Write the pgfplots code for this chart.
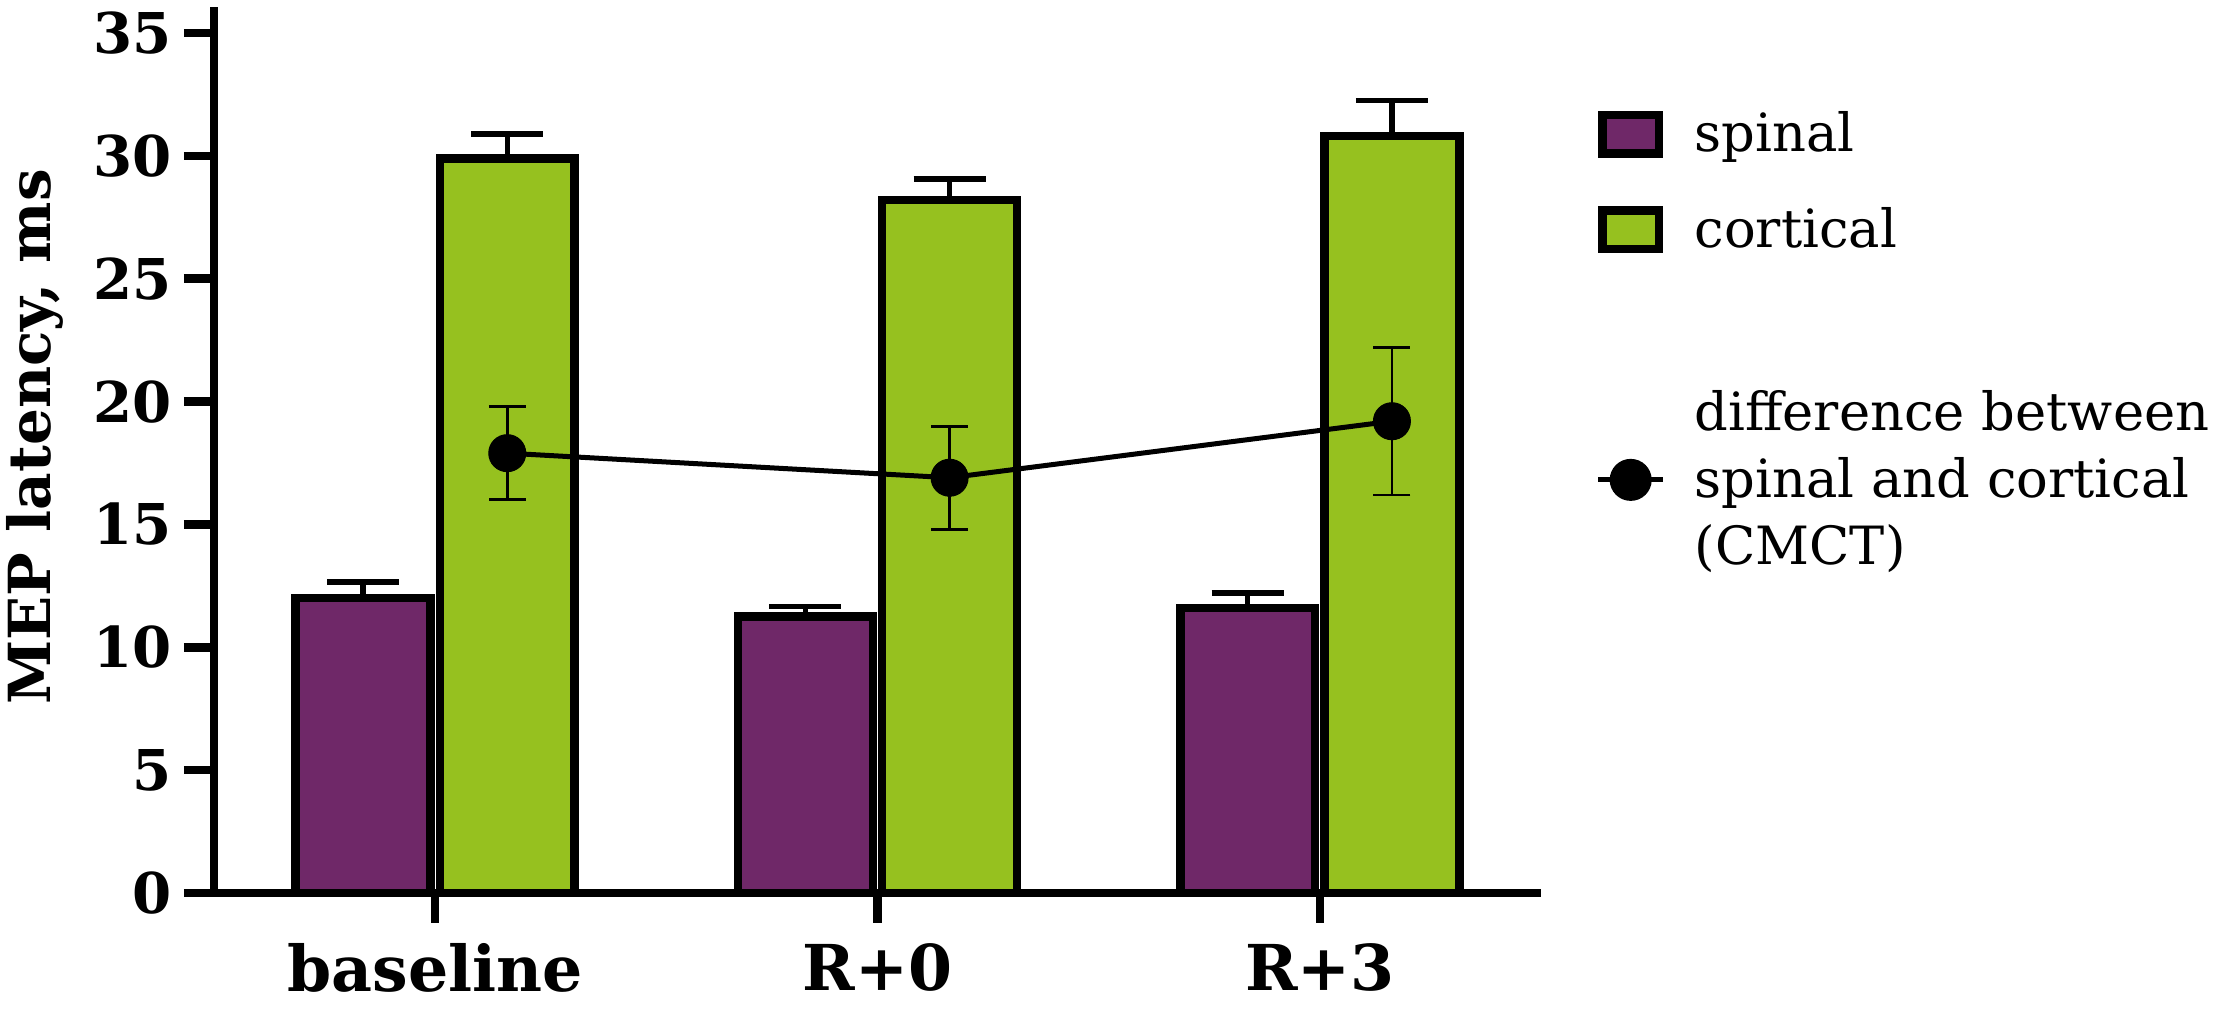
\documentclass[border=0pt]{standalone}
\usepackage{fontspec}
\setmainfont{DejaVu Serif}
\usepackage{pgfplots}
\pgfplotsset{compat=1.18}
\definecolor{spinalc}{RGB}{111,40,104}
\definecolor{corticalc}{RGB}{150,193,31}
\begin{document}
\begin{tikzpicture}
\path[use as bounding box] (0,0) rectangle (222.7mm,101.7mm);
\begin{axis}[
  at={(21.4mm,12.4mm)}, anchor=south west,
  scale only axis, width=132.7mm, height=88.6mm,
  xmin=-0.5, xmax=2.5, ymin=0, ymax=36.06,
  axis x line*=bottom, axis y line*=left,
  axis line style={line width=0.85mm, black},
  xtick={0,1,2}, xticklabels={baseline,R+0,R+3},
  ytick={0,5,...,35},
  tick align=outside, major tick length=3mm,
  tick style={line width=0.85mm, black},
  /pgf/number format/assume math mode=true,
  yticklabel style={font=\fontsize{16}{19}\selectfont\bfseries},
  xticklabel style={font=\fontsize{18}{21}\selectfont\bfseries, yshift=-0.8mm},
  ylabel={MEP latency, ms},
  ylabel style={font=\fontsize{16.5}{20}\selectfont\bfseries, at={(axis description cs:-0.135,0.515)}, anchor=center},
  legend style={at={(axis description cs:1,1)}, anchor=north west, xshift=5.4mm, yshift=-9.4mm,
    draw=none, fill=none, inner sep=0pt, row sep=3.05mm, column sep=2.9mm,
    nodes={inner sep=0pt, align=left}, font=\fontsize{15}{19}\selectfont},
  legend cell align=left,
  clip=false,
]
\addplot[ybar, bar width=0.305, bar shift=0, fill=spinalc, draw=black, line width=0.85mm,
  legend image code/.code={\path[draw=none, fill=none] (0mm,-3.25mm) rectangle (6.5mm,3.25mm);
    \draw[fill=spinalc, draw=black, line width=0.85mm] (0.425mm,-1.925mm) rectangle (6.075mm,1.925mm);},
  error bars/.cd, y dir=plus, y explicit,
  error bar style={line width=0.55mm, black},
  error mark options={rotate=90, line width=0.55mm, mark size=3.6mm, black}]
  coordinates {(-0.163,12.0) +- (0,0.65) (0.837,11.25) +- (0,0.4) (1.837,11.6) +- (0,0.6)};
\addlegendentry{spinal}
\addplot[ybar, bar width=0.305, bar shift=0, fill=corticalc, draw=black, line width=0.85mm,
  legend image code/.code={\path[draw=none, fill=none] (0mm,-3.25mm) rectangle (6.5mm,3.25mm);
    \draw[fill=corticalc, draw=black, line width=0.85mm] (0.425mm,-1.925mm) rectangle (6.075mm,1.925mm);},
  error bars/.cd, y dir=plus, y explicit,
  error bar style={line width=0.55mm, black},
  error mark options={rotate=90, line width=0.55mm, mark size=3.6mm, black}]
  coordinates {(0.163,29.9) +- (0,1.0) (1.163,28.2) +- (0,0.85) (2.163,30.8) +- (0,1.45)};
\addlegendentry{cortical}
\addlegendimage{empty legend}
\addlegendentry{\rule{0pt}{6.2mm}}
\addplot[sharp plot, black, line width=0.5mm, mark=*, mark size=1.85mm,
  mark options={solid, fill=black, line width=0.1mm},
  legend image code/.code={\draw[black, line width=0.5mm] (0mm,0mm) -- (6.5mm,0mm); \fill[black] (3.25mm,0mm) circle (1.85mm);},
  error bars/.cd, y dir=both, y explicit,
  error bar style={line width=0.28mm, black},
  error mark options={rotate=90, line width=0.28mm, mark size=1.85mm, black}]
  coordinates {(0.163,17.9) +- (0,1.9) (1.163,16.9) +- (0,2.1) (2.163,19.2) +- (0,3.0)};
\addlegendentry{difference between\\spinal and cortical\\(CMCT)}
\end{axis}
\end{tikzpicture}
\end{document}
